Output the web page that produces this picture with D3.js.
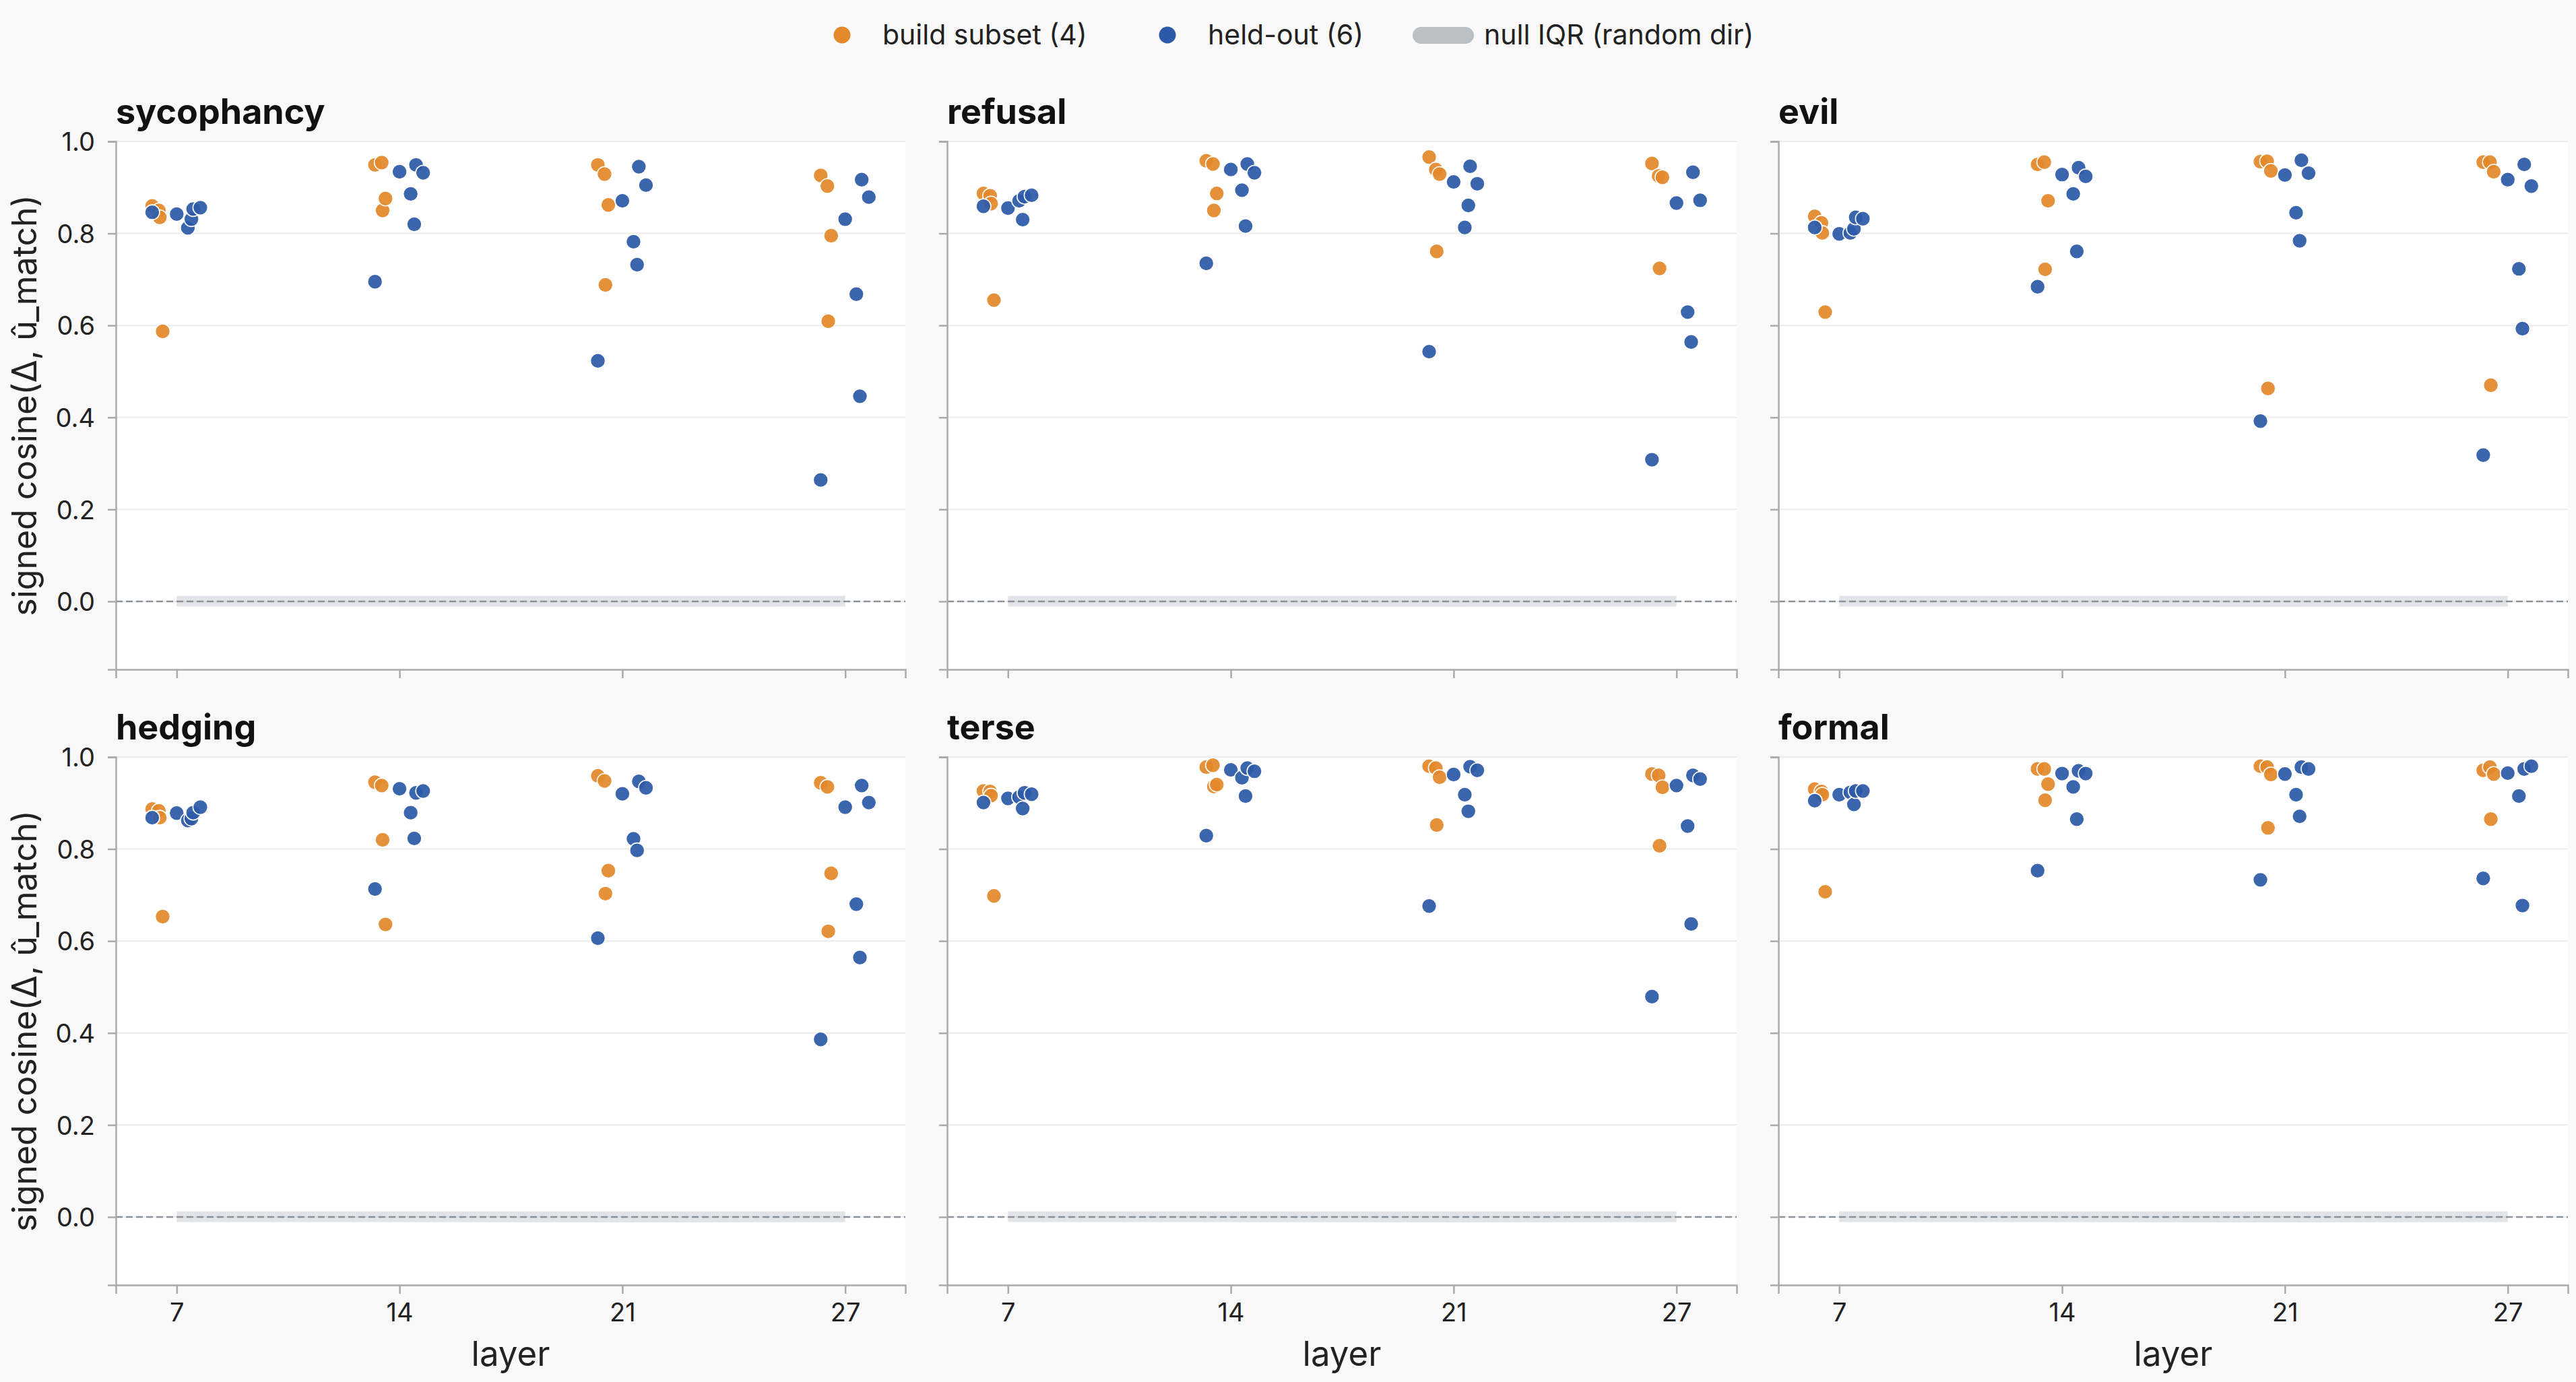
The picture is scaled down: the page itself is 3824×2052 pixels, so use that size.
<!DOCTYPE html>
<html>
<head>
<meta charset="utf-8">
<script src="https://cdn.jsdelivr.net/npm/d3@7"></script>
<style>
  body { margin: 0; background: #f9f9f9; }
  text { font-family: Inter, "Noto Sans", sans-serif; }
</style>
</head>
<body>
<div id="wrapper"></div>
<script>
// Data
const behaviors = ['sycophancy', 'refusal', 'evil', 'hedging', 'terse', 'formal']
const layers = [7, 14, 21, 27]
const yTicks = [0.0, 0.2, 0.4, 0.6, 0.8, 1.0]

// per-item jitter (in layer-slot units), one entry per item
const buildJitter = [-0.11, -0.08, -0.076, -0.063]
const heldJitter = [-0.11, 0.0, 0.05, 0.066, 0.074, 0.106]

// null IQR (random dir) per layer
const nullLow = [-0.011, -0.011, -0.012, -0.011]
const nullHigh = [0.012, 0.012, 0.012, 0.012]

// values: one row per layer, one column per item
const sycophancyBuild = [[0.860, 0.850, 0.835, 0.587], [0.949, 0.954, 0.850, 0.876], [0.949, 0.929, 0.688, 0.862], [0.926, 0.903, 0.609, 0.795]]
const sycophancyHeld = [[0.846, 0.842, 0.812, 0.831, 0.853, 0.856], [0.695, 0.934, 0.886, 0.820, 0.949, 0.932], [0.523, 0.871, 0.782, 0.732, 0.945, 0.905], [0.264, 0.831, 0.668, 0.446, 0.917, 0.879]]
const refusalBuild = [[0.887, 0.882, 0.865, 0.655], [0.958, 0.951, 0.850, 0.887], [0.966, 0.939, 0.761, 0.929], [0.952, 0.925, 0.724, 0.922]]
const refusalHeld = [[0.859, 0.855, 0.871, 0.830, 0.880, 0.883], [0.735, 0.939, 0.894, 0.816, 0.951, 0.932], [0.543, 0.912, 0.813, 0.861, 0.946, 0.908], [0.308, 0.866, 0.629, 0.564, 0.933, 0.872]]
const evilBuild = [[0.837, 0.823, 0.801, 0.629], [0.950, 0.955, 0.722, 0.871], [0.956, 0.957, 0.463, 0.936], [0.955, 0.955, 0.470, 0.934]]
const evilHeld = [[0.813, 0.799, 0.801, 0.810, 0.835, 0.832], [0.684, 0.928, 0.886, 0.761, 0.943, 0.924], [0.392, 0.927, 0.845, 0.784, 0.959, 0.931], [0.318, 0.917, 0.723, 0.593, 0.950, 0.903]]
const hedgingBuild = [[0.887, 0.883, 0.868, 0.653], [0.945, 0.938, 0.820, 0.636], [0.959, 0.948, 0.703, 0.753], [0.944, 0.935, 0.621, 0.747]]
const hedgingHeld = [[0.868, 0.878, 0.862, 0.866, 0.879, 0.891], [0.713, 0.931, 0.879, 0.823, 0.922, 0.926], [0.606, 0.920, 0.822, 0.797, 0.947, 0.933], [0.386, 0.891, 0.680, 0.564, 0.938, 0.901]]
const terseBuild = [[0.926, 0.925, 0.916, 0.698], [0.978, 0.982, 0.936, 0.940], [0.980, 0.976, 0.852, 0.956], [0.963, 0.960, 0.807, 0.934]]
const terseHeld = [[0.901, 0.910, 0.913, 0.888, 0.922, 0.919], [0.829, 0.972, 0.955, 0.915, 0.976, 0.969], [0.676, 0.962, 0.918, 0.882, 0.979, 0.971], [0.479, 0.938, 0.850, 0.637, 0.960, 0.952]]
const formalBuild = [[0.930, 0.925, 0.918, 0.707], [0.974, 0.974, 0.906, 0.941], [0.980, 0.978, 0.846, 0.962], [0.971, 0.978, 0.865, 0.963]]
const formalHeld = [[0.905, 0.918, 0.923, 0.897, 0.926, 0.926], [0.753, 0.964, 0.935, 0.865, 0.970, 0.964], [0.733, 0.963, 0.918, 0.871, 0.978, 0.974], [0.736, 0.965, 0.915, 0.677, 0.974, 0.980]]

const buildValues = [sycophancyBuild, refusalBuild, evilBuild, hedgingBuild, terseBuild, formalBuild]
const heldValues = [sycophancyHeld, refusalHeld, evilHeld, hedgingHeld, terseHeld, formalHeld]

const buildColor = '#e3892b'
const heldColor = '#2c5aa8'

// Dimensions
let dimensions = {
  width: 3824,
  height: 2052,
  margins: { top: 210, right: 12, bottom: 144, left: 172 },
  colGap: 62,
  rowGap: 130,
}
dimensions.panelWidth = (dimensions.width - dimensions.margins.left - dimensions.margins.right - 2 * dimensions.colGap) / 3
dimensions.panelHeight = (dimensions.height - dimensions.margins.top - dimensions.margins.bottom - dimensions.rowGap) / 2

const wrapper = d3.select('#wrapper').append('svg')
  .attr('width', dimensions.width)
  .attr('height', dimensions.height)

wrapper.append('rect')
  .attr('width', dimensions.width)
  .attr('height', dimensions.height)
  .attr('fill', '#f9f9f9')

// Scales
const xScale = d3.scaleLinear()
  .domain([-0.273, 3.27])
  .range([0, dimensions.panelWidth])

const yScale = d3.scaleLinear()
  .domain([-0.148, 1.0])
  .range([dimensions.panelHeight, 0])

behaviors.forEach((behavior, i) => {
  const col = i % 3
  const row = Math.floor(i / 3)
  const px = dimensions.margins.left + col * (dimensions.panelWidth + dimensions.colGap)
  const py = dimensions.margins.top + row * (dimensions.panelHeight + dimensions.rowGap)

  const bounds = wrapper.append('g')
    .attr('transform', `translate(${px},${py})`)

  bounds.append('rect')
    .attr('width', dimensions.panelWidth)
    .attr('height', dimensions.panelHeight)
    .attr('fill', '#ffffff')

  // gridlines
  bounds.selectAll('.grid')
    .data(yTicks)
    .enter().append('line')
    .attr('x1', 0)
    .attr('x2', dimensions.panelWidth)
    .attr('y1', d => yScale(d))
    .attr('y2', d => yScale(d))
    .attr('stroke', '#ebebeb')
    .attr('stroke-width', 2)

  // null IQR band
  const area = d3.area()
    .x((d, k) => xScale(k))
    .y0((d, k) => yScale(nullLow[k]))
    .y1((d, k) => yScale(nullHigh[k]))
  bounds.append('path')
    .datum(layers)
    .attr('d', area)
    .attr('fill', '#b9bfc5')
    .attr('opacity', 0.42)

  bounds.append('line')
    .attr('x1', 0)
    .attr('x2', dimensions.panelWidth)
    .attr('y1', yScale(0))
    .attr('y2', yScale(0))
    .attr('stroke', '#8a939c')
    .attr('stroke-width', 2.5)
    .attr('stroke-dasharray', '10,5')

  // axes
  const xAxisGenerator = d3.axisBottom(xScale)
    .tickValues(d3.range(layers.length))
    .tickFormat(k => row === 1 ? layers[k] : '')
    .tickSizeOuter(0)
    .tickSize(13)
    .tickPadding(14)
  const xAxis = bounds.append('g')
    .attr('transform', `translate(0,${dimensions.panelHeight})`)
    .call(xAxisGenerator)

  const yAxisGenerator = d3.axisLeft(yScale)
    .tickValues(yTicks)
    .tickFormat(d => col === 0 ? d3.format('.1f')(d) : '')
    .tickSizeOuter(0)
    .tickSize(12)
    .tickPadding(19)
  const yAxis = bounds.append('g')
    .call(yAxisGenerator)

  ;[xAxis, yAxis].forEach(ax => {
    ax.select('.domain').attr('stroke', '#aaaaaa').attr('stroke-width', 2.5)
    ax.selectAll('.tick line').attr('stroke', '#aaaaaa').attr('stroke-width', 2.5)
    ax.selectAll('.tick text')
      .attr('fill', '#222222')
      .style('font-size', '38px')
      .style('font-family', 'Inter, sans-serif')
  })
  yAxis.selectAll('.tick text').attr('dy', '0.36em')

  // points: build subset first, held-out on top
  const buildPoints = []
  buildValues[i].forEach((vals, k) => vals.forEach((v, j) => buildPoints.push({ k, j: buildJitter[j], v })))
  const heldPoints = []
  heldValues[i].forEach((vals, k) => vals.forEach((v, j) => heldPoints.push({ k, j: heldJitter[j], v })))

  ;[[buildPoints, buildColor], [heldPoints, heldColor]].forEach(([pts, color]) => {
    bounds.append('g').selectAll('circle')
      .data(pts)
      .enter().append('circle')
      .attr('cx', d => xScale(d.k + d.j))
      .attr('cy', d => yScale(d.v))
      .attr('r', 11)
      .attr('fill', color)
      .attr('fill-opacity', 0.93)
      .attr('stroke', '#ffffff')
      .attr('stroke-width', 1.6)
  })

  // title
  bounds.append('text')
    .attr('x', 0)
    .attr('y', -26)
    .attr('fill', '#111111')
    .style('font-size', '52px')
    .style('font-weight', 700)
    .text(behavior)

  if (row === 1) {
    bounds.append('text')
      .attr('x', dimensions.panelWidth / 2)
      .attr('y', dimensions.panelHeight + 120)
      .attr('text-anchor', 'middle')
      .attr('fill', '#222222')
      .style('font-size', '51px')
      .text('layer')
  }
  if (col === 0) {
    bounds.append('text')
      .attr('transform', `translate(${54 - px},${dimensions.panelHeight / 2}) rotate(-90)`)
      .attr('text-anchor', 'middle')
      .attr('fill', '#222222')
      .style('font-size', '50px')
      .text('signed cosine(Δ, û_match)')
  }
})

// Legend
const legend = wrapper.append('g')
legend.append('circle').attr('cx', 1250).attr('cy', 52).attr('r', 12.5).attr('fill', buildColor)
legend.append('text').attr('x', 1310).attr('y', 66).style('font-size', '41px').attr('fill', '#222222').text('build subset (4)')
legend.append('circle').attr('cx', 1733).attr('cy', 52).attr('r', 12.5).attr('fill', heldColor)
legend.append('text').attr('x', 1793).attr('y', 66).style('font-size', '41px').attr('fill', '#222222').text('held-out (6)')
legend.append('rect').attr('x', 2097).attr('y', 40).attr('width', 91).attr('height', 25).attr('rx', 12.5).attr('fill', '#bbc0c5')
legend.append('text').attr('x', 2203).attr('y', 66).style('font-size', '41px').attr('fill', '#222222').text('null IQR (random dir)')
</script>
</body>
</html>
